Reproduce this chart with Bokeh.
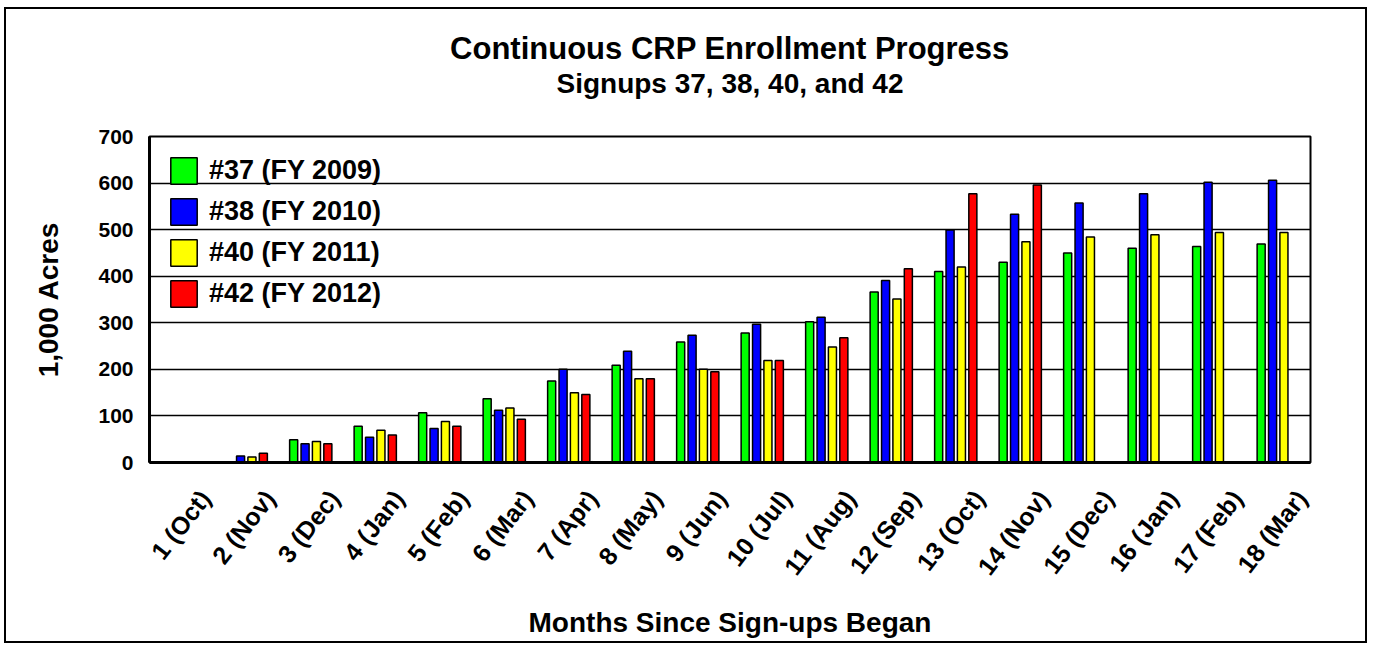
from bokeh.plotting import figure
from bokeh.models import Range1d, FixedTicker, LinearAxis, Title
from bokeh.transform import dodge
from bokeh.embed import file_html
from bokeh.resources import INLINE

# ---------------- data ----------------
months = ["1 (Oct)", "2 (Nov)", "3 (Dec)", "4 (Jan)", "5 (Feb)", "6 (Mar)",
          "7 (Apr)", "8 (May)", "9 (Jun)", "10 (Jul)", "11 (Aug)", "12 (Sep)",
          "13 (Oct)", "14 (Nov)", "15 (Dec)", "16 (Jan)", "17 (Feb)", "18 (Mar)"]
month_idx = list(range(len(months)))
series_names = ["#37 (FY 2009)", "#38 (FY 2010)", "#40 (FY 2011)", "#42 (FY 2012)"]
su37 = [0, 0, 49, 78, 107, 137, 175, 209, 259, 278, 302, 366, 410, 430, 450, 460, 464, 469]
su38 = [0, 14, 40, 54, 73, 112, 200, 239, 273, 297, 312, 391, 499, 533, 557, 577, 602, 606]
su40 = [0, 12, 45, 69, 88, 117, 150, 180, 200, 219, 248, 351, 420, 474, 484, 489, 494, 494]
nan = float("nan")
su42 = [0, 20, 40, 59, 78, 93, 146, 180, 195, 219, 268, 416, 577, 596, nan, nan, nan, nan]
y_ticks = [0, 100, 200, 300, 400, 500, 600, 700]
title_text = "Continuous CRP Enrollment Progress"
subtitle_text = "Signups 37, 38, 40, and 42"
x_title = "Months Since Sign-ups Began"
y_title = "1,000 Acres"

# ---------------- style ----------------
colors = ["#00FF00", "#0000FF", "#FFFF00", "#FF0000"]
offsets = [-0.265, -0.088, 0.088, 0.265]
FONT = "Liberation Sans"
label_shift = 0.36

p = figure(width=1363, height=636,
           x_range=Range1d(-0.5, 17.5), y_range=Range1d(0, 700),
           x_axis_location=None,
           output_backend="svg", toolbar_location=None,
           min_border_left=143, min_border_right=59,
           min_border_top=127, min_border_bottom=183)
p.styles = {"border": "2px solid black", "margin": "7px 0px 0px 4px"}
p.background_fill_color = "white"
p.border_fill_color = "white"
p.outline_line_color = "black"
p.outline_line_width = 2

src = {"x": month_idx, "s0": su37, "s1": su38, "s2": su40, "s3": su42}
for k, (name, col, off) in enumerate(zip(series_names, colors, offsets)):
    p.vbar(x=dodge("x", off, range=p.x_range), top="s%d" % k, width=0.125,
           source=src, fill_color=col, line_color="black", line_width=1.5,
           legend_label=name)

# category label axis: shifted range so labels sit like the original
p.extra_x_ranges = {"lab": Range1d(-0.5 - label_shift, 17.5 - label_shift)}
xax = LinearAxis(x_range_name="lab")
xax.ticker = FixedTicker(ticks=month_idx)
xax.major_label_overrides = {i: m for i, m in zip(month_idx, months)}
xax.major_label_orientation = 0.91
xax.major_label_text_font = FONT
xax.major_label_text_font_style = "bold"
xax.major_label_text_font_size = "25px"
xax.major_label_text_color = "black"
xax.major_label_standoff = 31
xax.major_tick_out = 0
xax.major_tick_in = 0
xax.minor_tick_out = 0
xax.minor_tick_in = 0
xax.axis_line_width = 3
xax.axis_line_color = "black"
xax.axis_label = x_title
xax.axis_label_text_font = FONT
xax.axis_label_text_font_style = "bold"
xax.axis_label_text_font_size = "28px"
xax.axis_label_text_color = "black"
xax.axis_label_standoff = 15
p.add_layout(xax, "below")

yax = p.yaxis[0]
yax.ticker = FixedTicker(ticks=y_ticks)
yax.major_label_text_font = FONT
yax.major_label_text_font_style = "bold"
yax.major_label_text_font_size = "21px"
yax.major_label_text_color = "black"
yax.major_label_standoff = 16
yax.major_tick_out = 0
yax.major_tick_in = 0
yax.minor_tick_out = 0
yax.minor_tick_in = 0
yax.axis_line_width = 3
yax.axis_line_color = "black"
yax.axis_label = y_title
yax.axis_label_text_font = FONT
yax.axis_label_text_font_style = "bold"
yax.axis_label_text_font_size = "28px"
yax.axis_label_text_color = "black"
yax.axis_label_standoff = 31

p.ygrid.grid_line_color = "black"
p.ygrid.grid_line_width = 1.5
p.ygrid.ticker = FixedTicker(ticks=y_ticks)
for g in p.xgrid:
    g.visible = False

lg = p.legend[0]
lg.location = "top_left"
lg.margin = 0
lg.padding = 18
lg.background_fill_alpha = 0
lg.border_line_alpha = 0
lg.label_text_font = FONT
lg.label_text_font_style = "bold"
lg.label_text_font_size = "27px"
lg.label_text_color = "black"
lg.glyph_width = 33
lg.glyph_height = 33
lg.label_height = 33
lg.label_standoff = 9
lg.spacing = 8

# chart titles: subtitle added first (closest to the plot), then main title
p.add_layout(Title(text=subtitle_text, align="center", standoff=76,
                   text_font=FONT, text_font_style="bold", text_font_size="28px",
                   text_color="black"), "above")
p.add_layout(Title(text=title_text, align="center", standoff=-76,
                   text_font=FONT, text_font_style="bold", text_font_size="31px",
                   text_color="black"), "above")

open("out.html", "w").write(file_html(p, INLINE))
